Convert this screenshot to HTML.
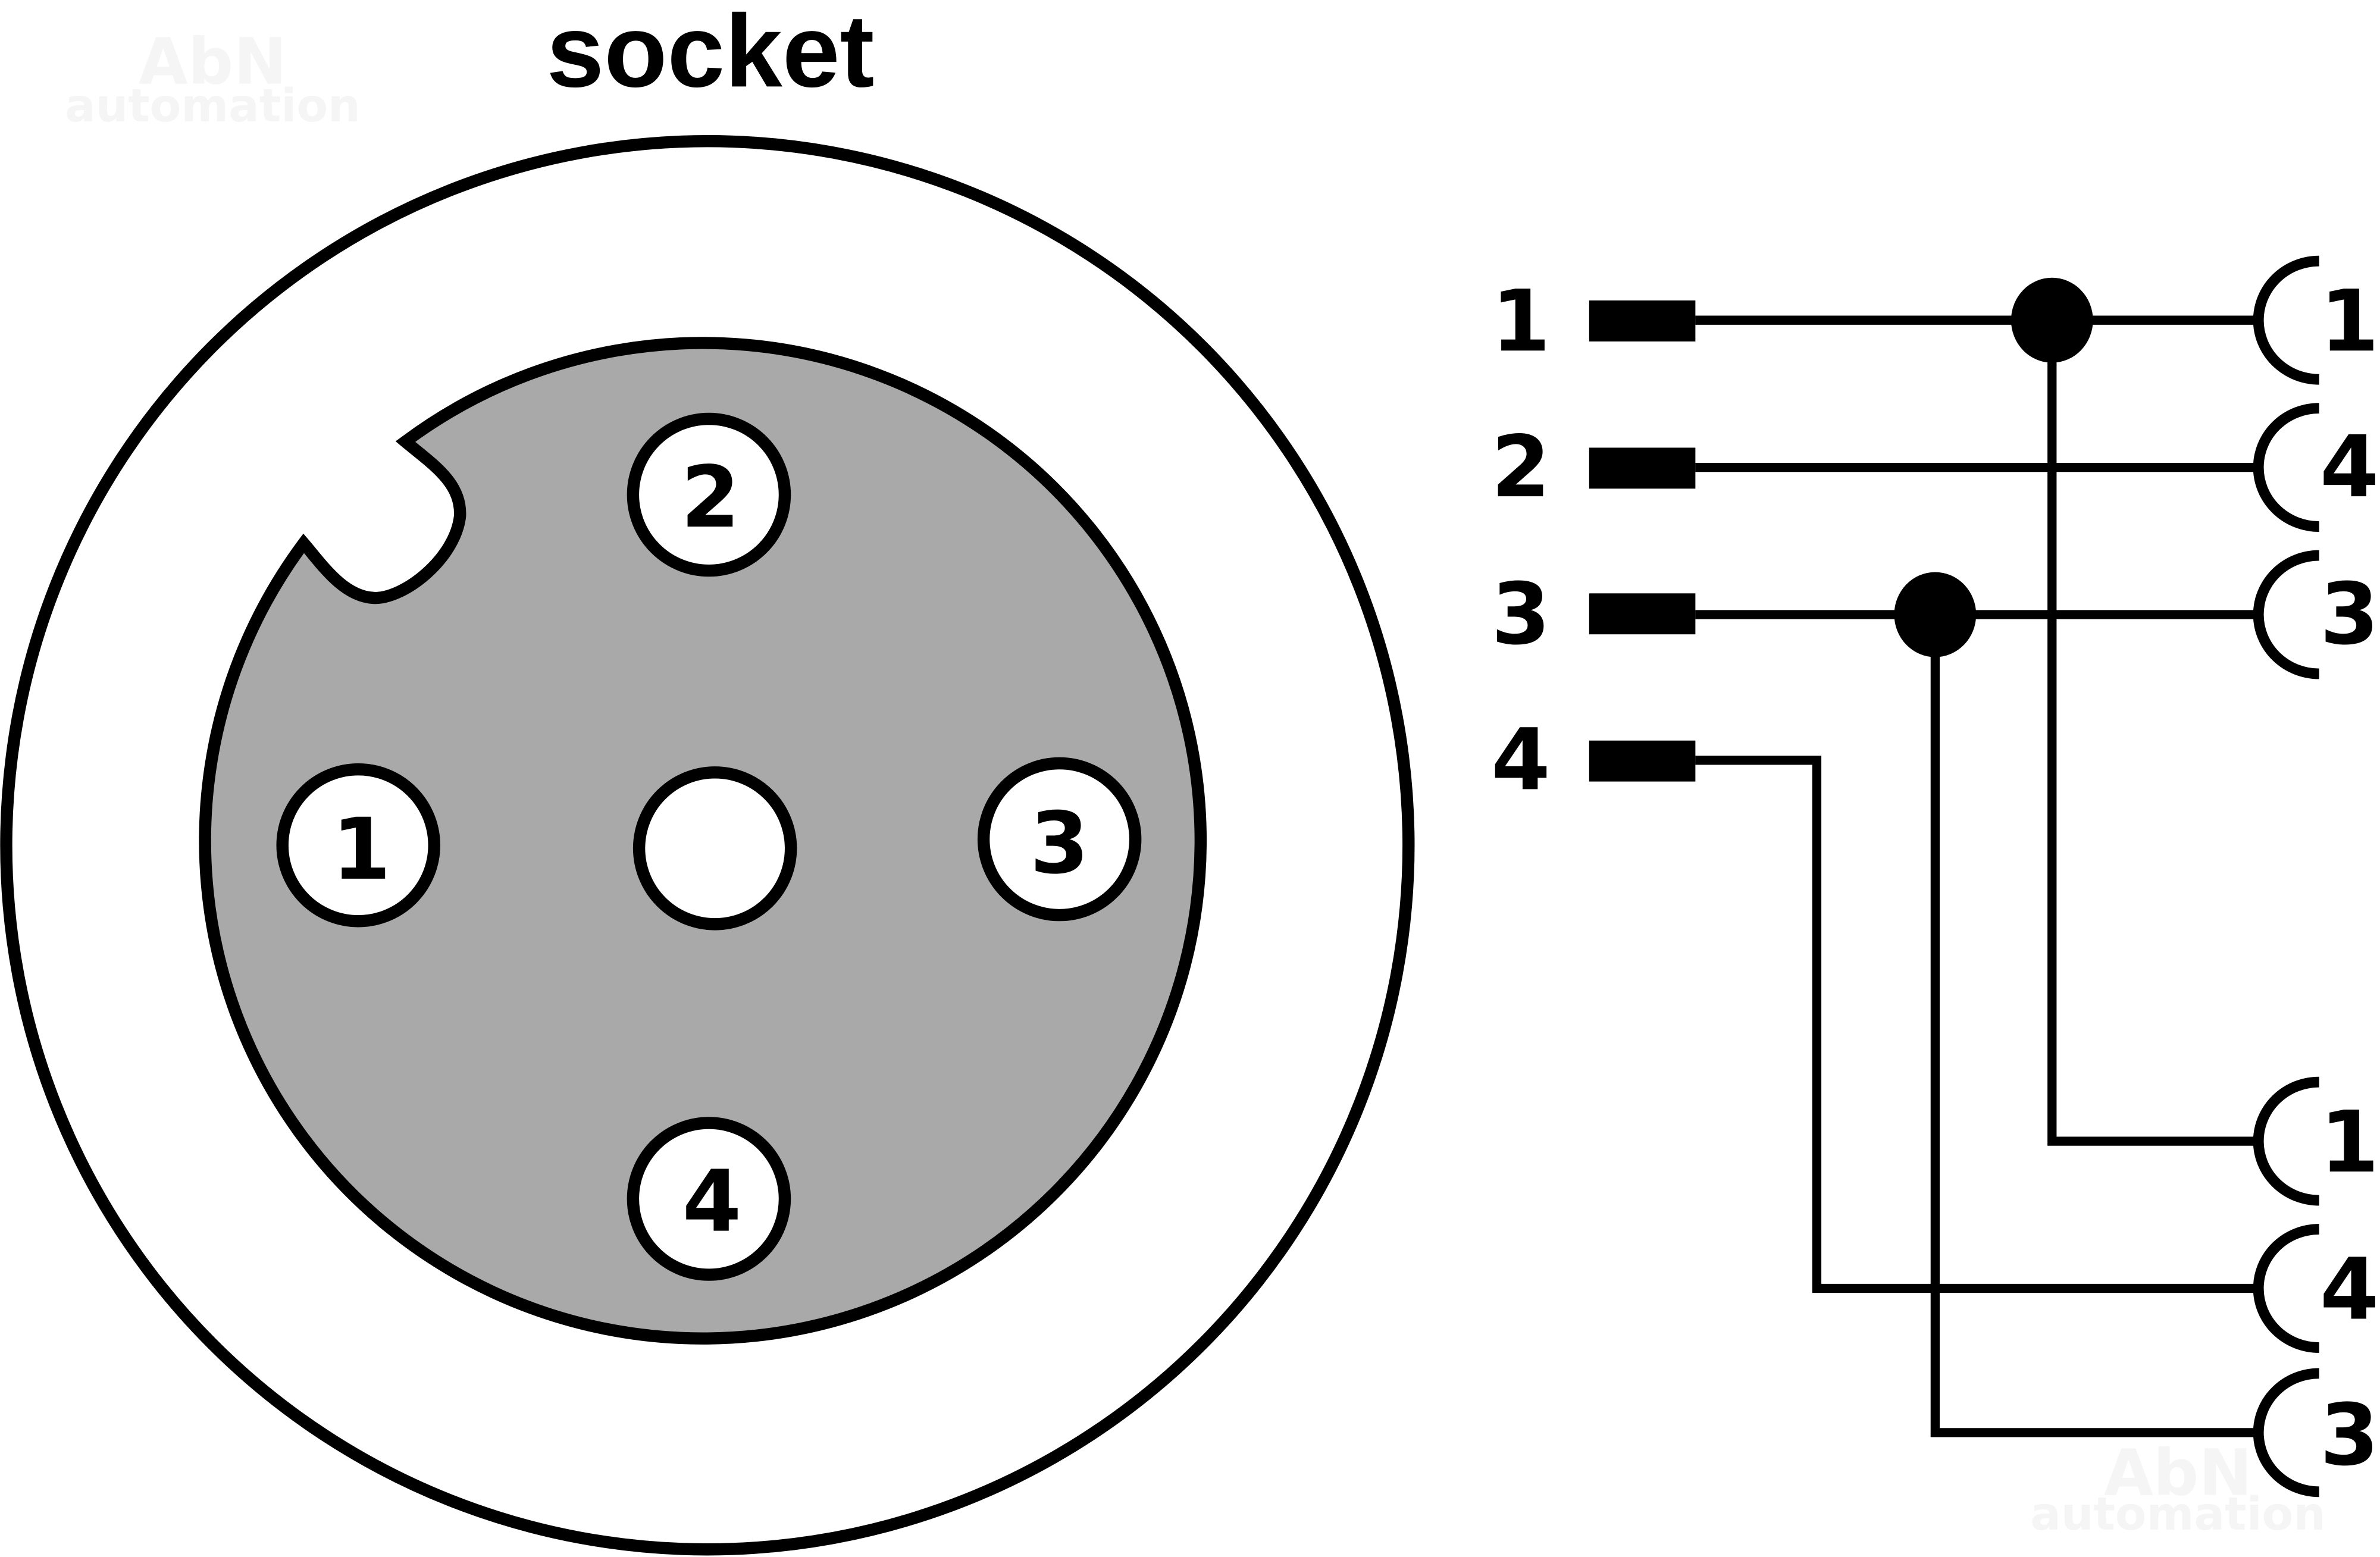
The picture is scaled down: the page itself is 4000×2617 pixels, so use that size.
<!DOCTYPE html>
<html><head><meta charset="utf-8"><style>
html,body{margin:0;padding:0;background:#fff;}
svg{display:block;}
text{font-family:"DejaVu Sans","Liberation Sans",sans-serif;font-weight:bold;}
</style></head><body>
<svg width="4000" height="2617" viewBox="0 0 1568 1026" xmlns="http://www.w3.org/2000/svg">
<rect width="1568" height="1026" fill="#fff"/>
<g fill="#f5f5f5" text-anchor="middle">
<text x="140" y="55" font-size="42">AbN</text>
<text x="140" y="80" font-size="30">automation</text>
<text x="1435" y="985" font-size="42">AbN</text>
<text x="1435" y="1008" font-size="30">automation</text>
</g>
<text x="468" y="57" font-size="68" text-anchor="middle" style="font-family:'Liberation Sans',sans-serif" textLength="216" lengthAdjust="spacingAndGlyphs">socket</text>
<ellipse cx="466" cy="557" rx="462" ry="464" fill="none" stroke="#000" stroke-width="8"/>
<path d="M267,291 A328,328 0 1 1 200,358 C212,372 226,393 246,394 C266,395 300,368 303,340 C304,318 285,306 267,291 Z" fill="#a9a9a9" stroke="#000" stroke-width="8"/>
<g fill="#fff" stroke="#000" stroke-width="8">
<circle cx="467" cy="326" r="50"/>
<circle cx="236" cy="557" r="50"/>
<circle cx="471" cy="559" r="50"/>
<circle cx="698" cy="553" r="50"/>
<circle cx="467" cy="790" r="50"/>
</g>
<g font-size="56" text-anchor="middle" fill="#000">
<text x="468" y="347">2</text>
<text x="238" y="579">1</text>
<text x="698" y="575">3</text>
<text x="469" y="811">4</text>
<text x="1002" y="231">1</text>
<text x="1002" y="327">2</text>
<text x="1002" y="424">3</text>
<text x="1002" y="520">4</text>
<text x="1548" y="231">1</text>
<text x="1548" y="327">4</text>
<text x="1548" y="424">3</text>
<text x="1548" y="772">1</text>
<text x="1548" y="869">4</text>
<text x="1548" y="965">3</text>
</g>
<g fill="#000">
<rect x="1047" y="198" width="70" height="27"/>
<rect x="1047" y="295" width="70" height="27"/>
<rect x="1047" y="391" width="70" height="27"/>
<rect x="1047" y="488" width="70" height="27"/>
<ellipse cx="1352" cy="211" rx="27" ry="28"/>
<ellipse cx="1275" cy="405" rx="27" ry="28"/>
</g>
<g fill="none" stroke="#000" stroke-width="6">
<path d="M1117,211 H1487"/>
<path d="M1117,308 H1487"/>
<path d="M1117,405 H1487"/>
<path d="M1117,501 H1197 V849 H1487"/>
<path d="M1352,211 V752 H1487"/>
<path d="M1275,405 V944 H1487"/>
</g>
<g fill="none" stroke="#000" stroke-width="7">
<path d="M1528,172 A40,39 0 0 0 1528,250"/>
<path d="M1528,269 A40,39 0 0 0 1528,347"/>
<path d="M1528,366 A40,39 0 0 0 1528,444"/>
<path d="M1528,713 A40,39 0 0 0 1528,791"/>
<path d="M1528,810 A40,39 0 0 0 1528,888"/>
<path d="M1528,905 A40,39 0 0 0 1528,983"/>
</g>
</svg>
</body></html>
